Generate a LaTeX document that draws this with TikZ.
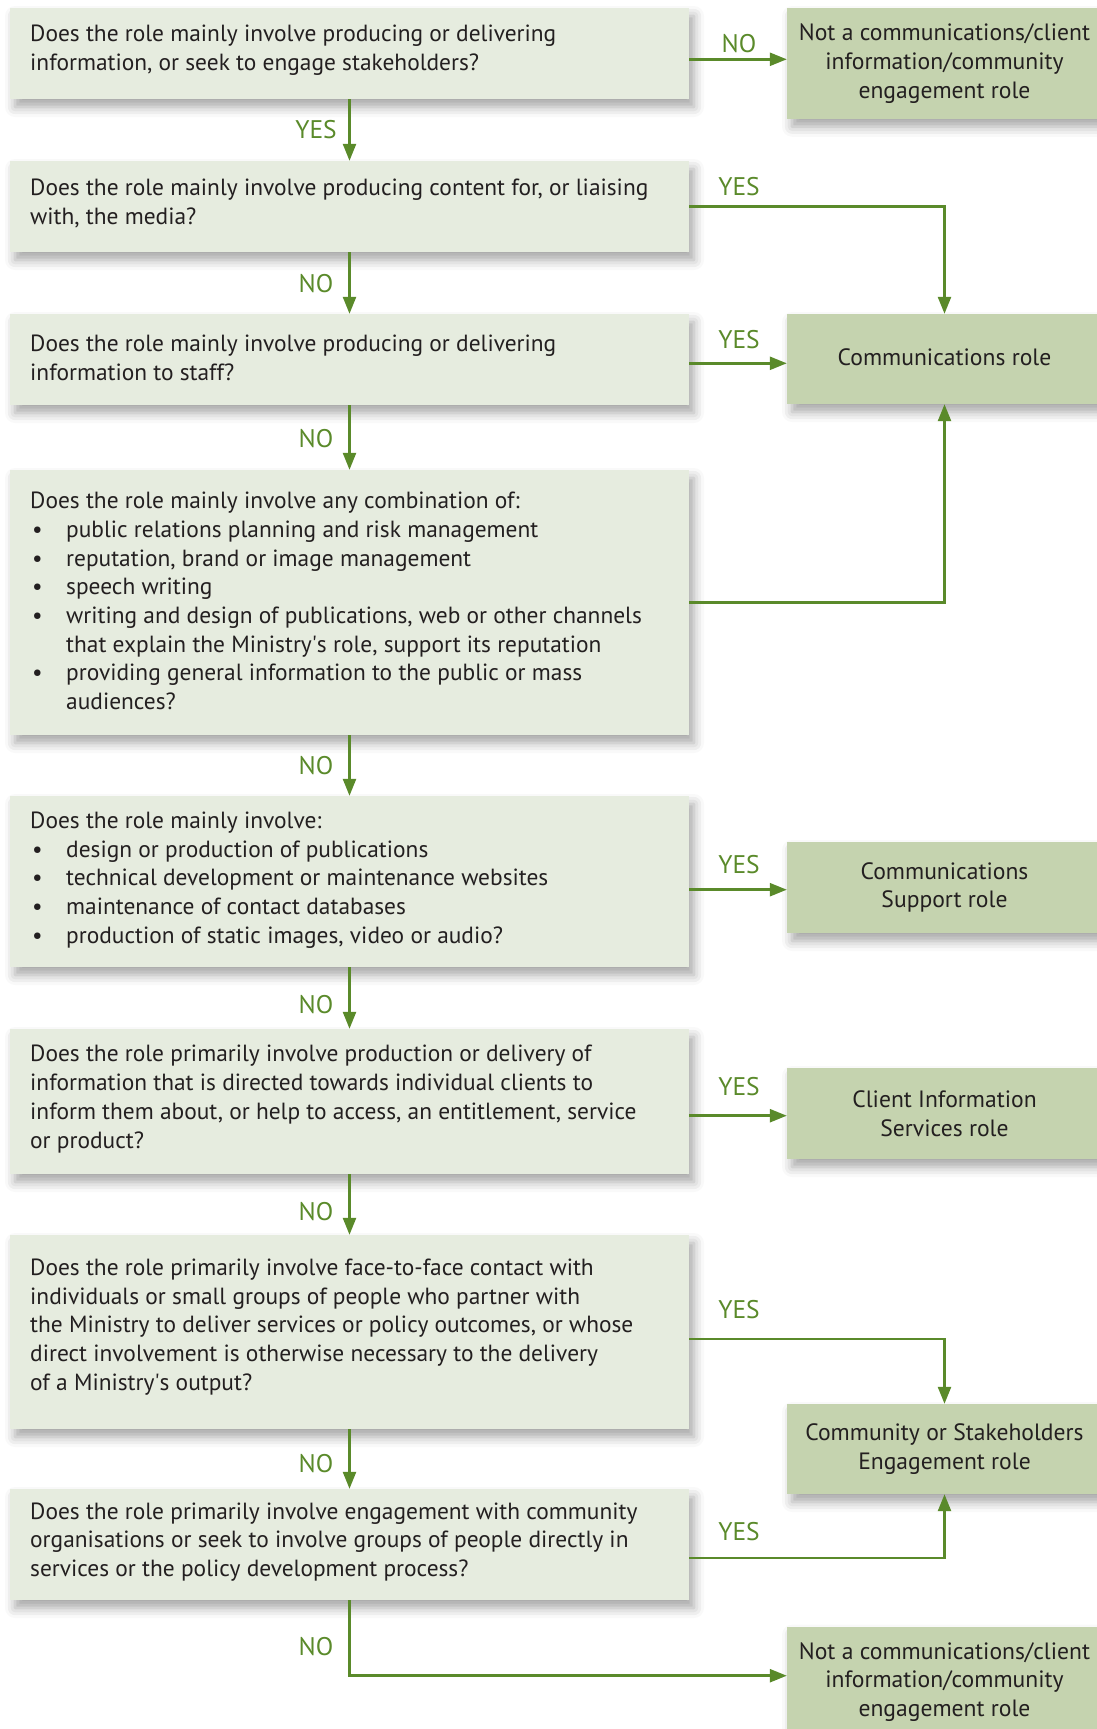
\documentclass[tikz,border=0pt]{standalone}
\usepackage{fontspec}
\setmainfont{PT Sans}
\usetikzlibrary{arrows.meta,shadows.blur,calc}
\definecolor{qfill}{HTML}{E6ECDF}
\definecolor{rfill}{HTML}{C5D3AF}
\definecolor{agreen}{HTML}{5A8A2A}
\definecolor{txtc}{HTML}{231F20}
\newcommand\qbul[1]{\makebox[36pt][l]{\hspace{2pt}\textbullet}#1}
\newcommand\qcont[1]{\makebox[36pt]{}#1}
\begin{document}
\begin{tikzpicture}[x=1pt,y=-1pt,
  shad/.style={blur shadow={shadow xshift=5pt,shadow yshift=-8pt,shadow blur radius=10pt,shadow opacity=35}},
  qbox/.style={rectangle,fill=qfill,draw=none,inner sep=0,minimum width=679pt,shad},
  rbox/.style={rectangle,fill=rfill,draw=none,inner sep=0,minimum width=315pt,shad,
    text=txtc,align=center,font=\fontsize{23.6pt}{28.7pt}\selectfont},
  qtxt/.style={anchor=west,inner sep=0,align=left,text=txtc,font=\fontsize{23.4pt}{28.7pt}\selectfont},
  lbl/.style={inner sep=0,text=agreen,font=\fontsize{25.5pt}{30pt}\selectfont},
  arr/.style={draw=agreen,line width=2.5pt,-{Triangle[length=17pt,width=13pt]}},
  ln/.style={draw=agreen,line width=2.5pt}]
\useasboundingbox (0,0) rectangle (1097,1729);
% question boxes
\node[qbox,minimum height=91pt]  (q1) at (349.5,53.5) {};
\node[qbox,minimum height=91pt]  (q2) at (349.5,206.5) {};
\node[qbox,minimum height=91pt]  (q3) at (349.5,359.5) {};
\node[qbox,minimum height=265pt] (q4) at (349.5,602.5) {};
\node[qbox,minimum height=171pt] (q5) at (349.5,881.5) {};
\node[qbox,minimum height=145pt] (q6) at (349.5,1101.5) {};
\node[qbox,minimum height=194pt] (q7) at (349.5,1332) {};
\node[qbox,minimum height=111pt] (q8) at (349.5,1544.5) {};
% question texts
\node[qtxt] (t1) at (30,50.5) {Does the role mainly involve producing or delivering\\information, or seek to engage stakeholders?};
\node[qtxt] (t2) at (30,203.5) {Does the role mainly involve producing content for, or liaising\\with, the media?};
\node[qtxt] (t3) at (30,358) {Does the role mainly involve producing or delivering\\information to staff?};
\node[qtxt] (t4) at (30,601) {Does the role mainly involve any combination of:\\
  \qbul{public relations planning and risk management}\\
  \qbul{reputation, brand or image management}\\
  \qbul{speech writing}\\
  \qbul{writing and design of publications, web or other channels}\\
  \qcont{that explain the Ministry\textquotesingle s role, support its reputation}\\
  \qbul{providing general information to the public or mass}\\
  \qcont{audiences?}};
\node[qtxt] (t5) at (30,880) {Does the role mainly involve:\\
  \qbul{design or production of publications}\\
  \qbul{technical development or maintenance websites}\\
  \qbul{maintenance of contact databases}\\
  \qbul{production of static images, video or audio?}};
\node[qtxt] (t6) at (30,1099) {Does the role primarily involve production or delivery of\\information that is directed towards individual clients to\\inform them about, or help to access, an entitlement, service\\or product?};
\node[qtxt] (t7) at (30,1327) {Does the role primarily involve face-to-face contact with\\individuals or small groups of people who partner with\\the Ministry to deliver services or policy outcomes, or whose\\direct involvement is otherwise necessary to the delivery\\of a Ministry\textquotesingle s output?};
\node[qtxt] (t8) at (30,1542) {Does the role primarily involve engagement with community\\organisations or seek to involve groups of people directly in\\services or the policy development process?};
% result boxes
\node[rbox,minimum height=110.7pt] (r1) at (944.5,63.4) {Not a communications/client\\information/community\\engagement role};
\node[rbox,minimum height=90pt] (comm) at (944.5,359) {\raisebox{4.5pt}{Communications role}};
\node[rbox,minimum height=91pt] (supp) at (944.5,887.5) {Communications\\Support role};
\node[rbox,minimum height=91pt] (client) at (944.5,1113.5) {Client Information\\Services role};
\node[rbox,minimum height=90pt] (cse) at (944.5,1449) {Community or Stakeholders\\Engagement role};
\node[rbox,minimum height=110.7pt] (fin) at (944.5,1682) {Not a communications/client\\information/community\\engagement role};
% vertical NO/YES chain
\draw[arr] (q1) -- (q2);
\draw[arr] (q2) -- (q3);
\draw[arr] (q3) -- (q4);
\draw[arr] (q4) -- (q5);
\draw[arr] (q5) -- (q6);
\draw[arr] (q6) -- (q7);
\draw[arr] (q7) -- (q8);
\node[lbl] (v1) at (316,129.3) {YES};
\node[lbl] (v2) at (316,283.2) {NO};
\node[lbl] (v3) at (316,438.2) {NO};
\node[lbl] (v4) at (316,765.7) {NO};
\node[lbl] (v5) at (316,1004.3) {NO};
\node[lbl] (v6) at (316,1211.4) {NO};
\node[lbl] (v7) at (316,1463.2) {NO};
\node[lbl] (v8) at (316,1647) {NO};
% horizontal connectors
\coordinate (c1) at ([yshift=-5.8pt]q1.east);
\draw[arr] (c1) -- (c1 -| r1.west);
\node[lbl] (h1) at (739,43.3) {NO};
\draw[arr] (q2.east) -| (comm.north);
\node[lbl] (h2) at (739,186.7) {YES};
\coordinate (c3) at ([yshift=-3.8pt]q3.east);
\draw[arr] (c3) -- (c3 -| comm.west);
\node[lbl] (h3) at (739,340) {YES};
\draw[arr] (q4.east) -| (comm.south);
\coordinate (c5) at ([yshift=-8.2pt]q5.east);
\draw[arr] (c5) -- (c5 -| supp.west);
\node[lbl] (h5) at (739,865) {YES};
\coordinate (c6) at ([yshift=-14.2pt]q6.east);
\draw[arr] (c6) -- (c6 -| client.west);
\node[lbl] (h6) at (739,1087) {YES};
\coordinate (c7) at ([yshift=-7pt]q7.east);
\draw[arr] (c7) -| (cse.north);
\node[lbl] (h7) at (739,1310) {YES};
\coordinate (c8) at ([yshift=-13.5pt]q8.east);
\draw[arr] (c8) -| (cse.south);
\node[lbl] (h8) at (739,1532) {YES};
\coordinate (cf) at ([yshift=6.3pt]fin.west);
\draw[arr] (q8.south) |- (cf);
\end{tikzpicture}
\end{document}
